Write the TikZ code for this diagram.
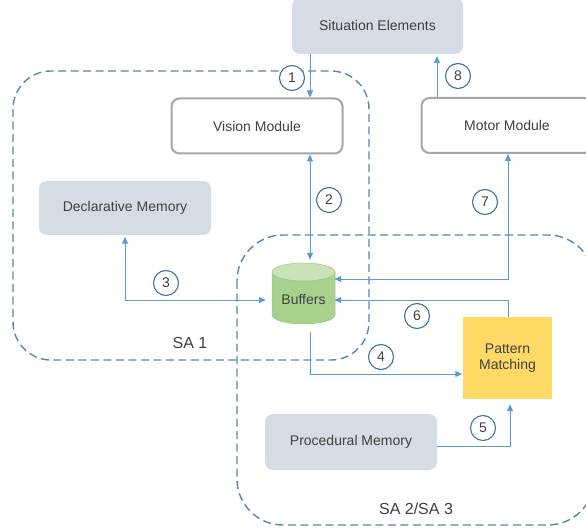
\documentclass[tikz,border=0pt]{standalone}
\usepackage{fontspec}
\setmainfont{Liberation Sans}
\usetikzlibrary{arrows.meta,calc}
\definecolor{txt}{HTML}{404040}
\definecolor{grayfill}{HTML}{D6DCE5}
\definecolor{modborder}{HTML}{A6A6A6}
\definecolor{arr}{HTML}{5B9BD5}
\definecolor{dsh}{HTML}{5B84B1}
\definecolor{circ}{HTML}{41719C}
\definecolor{pmfill}{HTML}{FFD966}
\definecolor{bufbody}{HTML}{A9D18E}
\definecolor{buftop}{HTML}{C9E2B8}
\definecolor{bufedge}{HTML}{9CC67E}
\begin{document}
\begin{tikzpicture}[x=1pt,y=-1pt,
  font=\fontsize{14}{17}\selectfont, text=txt,
  graybox/.style={rectangle, rounded corners=8pt, fill=grayfill, minimum width=172pt, minimum height=55pt, inner sep=0pt},
  modbox/.style={rectangle, rounded corners=8pt, draw=modborder, line width=2pt, fill=white, minimum width=171pt, minimum height=55pt, inner sep=0pt},
  numcirc/.style={circle, draw=circ, line width=1.1pt, fill=white, minimum size=25pt, inner sep=0pt},
  conn/.style={draw=arr, line width=0.9pt, -{Triangle[length=7pt,width=6pt]}},
  conn2/.style={draw=arr, line width=0.9pt, {Triangle[length=7pt,width=6pt]}-{Triangle[length=7pt,width=6pt]}},
  plain/.style={draw=arr, line width=0.9pt},
  sabox/.style={draw=dsh, line width=1.4pt, dash pattern=on 8pt off 4.5pt},
  salabel/.style={font=\fontsize{16}{19}\selectfont}
]
\useasboundingbox (0,0) rectangle (586,529);
\clip (0,0) rectangle (586,529);

% SA regions
\draw[sabox, rounded corners=38pt] (13,71) rectangle (369,360);
\draw[sabox, rounded corners=46pt] (237,235) rectangle (594,525);
\node[salabel] (sa1) at (190,343) {SA 1};
\node[salabel] (sa2) at (416,509) {SA 2/SA 3};

% Nodes
\node[graybox, minimum width=171pt, minimum height=56pt] (sit) at (377.5,26) {Situation Elements};
\node[modbox] (vis) at (257,126) {Vision Module};
\node[modbox] (mot) at (507,125.5) {Motor Module};
\node[graybox, minimum height=54pt] (dec) at (125,208) {Declarative Memory};
\node[graybox, minimum height=56pt] (proc) at (351,442) {Procedural Memory};
\node[rectangle, fill=pmfill, minimum width=89pt, minimum height=82pt, inner sep=0pt, align=center] (pm) at (507.5,358) {Pattern\\[-1pt]Matching};

% Buffers cylinder
\node[rectangle, minimum width=63pt, minimum height=61pt, inner sep=0pt] (buf) at (303.5,293.5) {};
\fill[bufbody, draw=bufedge, line width=0.5pt] (272,272) -- (272,315) arc[start angle=180, end angle=0, x radius=31.5, y radius=9] -- (335,272) -- cycle;
\fill[buftop, draw=bufedge, line width=0.5pt] (303.5,272) ellipse [x radius=31.5, y radius=9];
\node at (303.5,300) {Buffers};

% x-reference coordinates
\coordinate (x310) at (310,0);
\coordinate (x437) at (437,0);
\coordinate (x508) at (508,0);
\coordinate (x510) at (510,0);

% Connectors
\draw[conn] (sit.south -| x310) -- (vis.north -| x310);
\draw[conn2, shorten >=3pt] (vis.south -| x310) -- (buf.north -| x310);
\draw[conn2, shorten <=1.5pt, shorten >=6pt] (dec.south) |- ([yshift=-6.5pt]buf.west);
\draw[conn, shorten >=0.5pt] ([yshift=-8pt]buf.south -| x310) |- ([yshift=-16pt]pm.west);
\draw[conn, shorten >=5pt] ([yshift=-4pt]proc.east) -| (pm.south -| x510);
\draw[conn, shorten >=-1pt] (pm.north -| x508) |- ([yshift=-6.5pt]buf.east);
\draw[conn2, shorten >=-1pt] (mot.south -| x508) |- ([yshift=14.5pt]buf.east);
\draw[conn, shorten >=2pt] (mot.north -| x437) -- (sit.south -| x437);

% Number circles
\node[numcirc] (n1) at (292,78) {1};
\node[numcirc] (n2) at (329,200) {2};
\node[numcirc] (n3) at (166,283) {3};
\node[numcirc] (n4) at (381,357) {4};
\node[numcirc] (n5) at (483,428) {5};
\node[numcirc] (n6) at (417,316) {6};
\node[numcirc] (n7) at (485,202) {7};
\node[numcirc] (n8) at (458,76) {8};
\end{tikzpicture}
\end{document}
